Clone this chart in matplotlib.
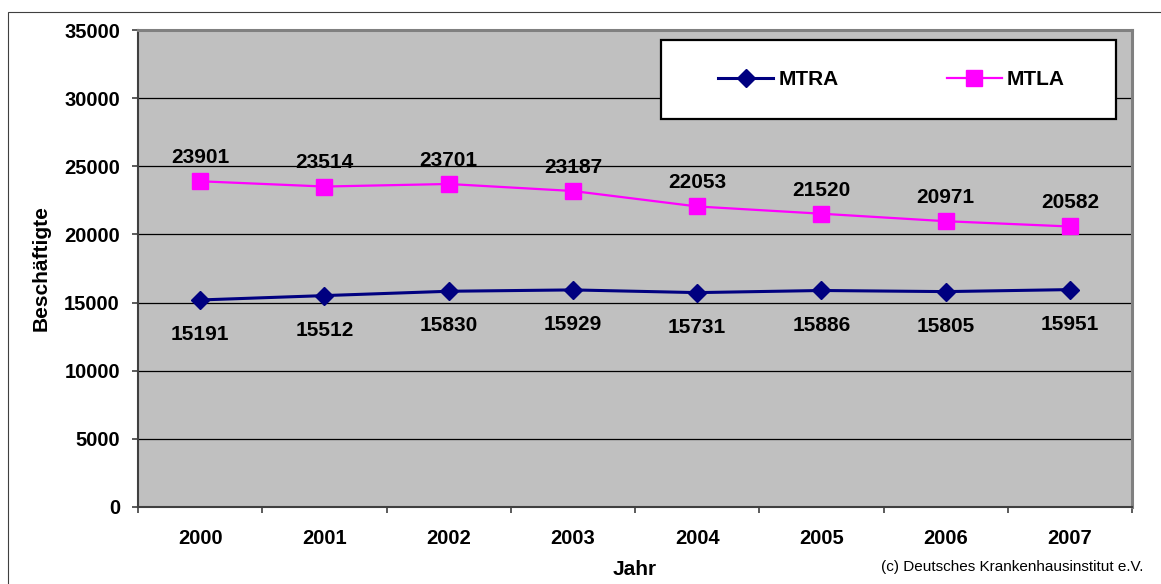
import matplotlib
matplotlib.use("Agg")
import matplotlib.pyplot as plt
from matplotlib.patches import Rectangle

# Beschäftigte nach Berufsgruppe, 2000–2007
years = ["2000", "2001", "2002", "2003", "2004", "2005", "2006", "2007"]
mtra = [15191, 15512, 15830, 15929, 15731, 15886, 15805, 15951]
mtla = [23901, 23514, 23701, 23187, 22053, 21520, 20971, 20582]
y_ticks = [0, 5000, 10000, 15000, 20000, 25000, 30000, 35000]

plt.rcParams['font.family'] = ['Liberation Sans', 'DejaVu Sans']

W, H = 1161, 584
fig = plt.figure(figsize=(W / 100, H / 100), dpi=100)
fig.patch.set_facecolor('white')

# outer chart frame (open to the right and bottom)
fig.add_artist(Rectangle((8 / W, -0.1), 1.2, (1 - 12 / H) + 0.1,
                         transform=fig.transFigure, fill=False,
                         ec='#404040', lw=0.8, clip_on=False))

ax = fig.add_axes([138 / W, 1 - 507 / H, (1132 - 138) / W, (507 - 30) / H])
ax.set_facecolor('#C0C0C0')

x = list(range(len(years)))
ax.plot(x, mtra, color='#000080', lw=2.2, marker='D', ms=9,
        label='MTRA', zorder=3)
ax.plot(x, mtla, color='#FF00FF', lw=1.6, marker='s', ms=11,
        label='MTLA', zorder=3)

label_kw = dict(textcoords='offset points', ha='center', va='center',
                fontsize=15, fontweight='bold', color='black')
for xi, v in zip(x, mtla):
    ax.annotate(f"{v}", (xi, v), xytext=(0, 17), **label_kw)
for xi, v in zip(x, mtra):
    ax.annotate(f"{v}", (xi, v), xytext=(0, -25), **label_kw)

ax.set_xlim(-0.5, len(years) - 0.5)
ax.set_ylim(y_ticks[0], y_ticks[-1])
ax.set_yticks(y_ticks)
ax.set_yticklabels([str(t) for t in y_ticks], fontsize=14.5, fontweight='bold')

# category boundaries carry the tick marks, centres carry the labels
ax.set_xticks([i - 0.5 for i in range(len(years) + 1)])
ax.set_xticklabels([])
ax.set_xticks(x, minor=True)
ax.set_xticklabels(years, minor=True, fontsize=14.5, fontweight='bold')
ax.tick_params(axis='x', which='minor', length=0, pad=15.5)
ax.tick_params(axis='x', which='major', length=4.5, width=1.2,
               color='#404040', direction='out')
ax.tick_params(axis='y', length=4.5, width=1.2, color='#404040',
               direction='out', pad=8.5)

ax.yaxis.grid(True, color='black', lw=0.9)
ax.set_axisbelow(True)

for side in ('left', 'bottom'):
    ax.spines[side].set_color('#404040')
    ax.spines[side].set_linewidth(1.5)
for side in ('top', 'right'):
    ax.spines[side].set_color('#808080')
    ax.spines[side].set_linewidth(2.2)

ax.set_xlabel('Jahr', fontsize=15, fontweight='bold', labelpad=9)
ax.set_ylabel('Beschäftigte', fontsize=15, fontweight='bold', labelpad=10)

# legend box: white panel with black frame, entries laid over it
ax.add_patch(Rectangle((661 / W, 1 - 119 / H), 455 / W, 79 / H,
                       transform=fig.transFigure, fc='white',
                       ec='black', lw=1.6, zorder=4, clip_on=False))
leg = ax.legend(loc='center', bbox_to_anchor=(891.5 / W, 1 - 79.5 / H),
                bbox_transform=fig.transFigure, ncol=2, frameon=False,
                prop={'size': 15, 'weight': 'bold'}, handlelength=2.64,
                handletextpad=0.25, columnspacing=5.2, borderpad=0)
leg.set_zorder(6)

fig.text(1143 / W, 1 - 567 / H, '(c) Deutsches Krankenhausinstitut e.V.',
         ha='right', va='center', fontsize=11, color='black')

fig.savefig('out.png', dpi=100)
